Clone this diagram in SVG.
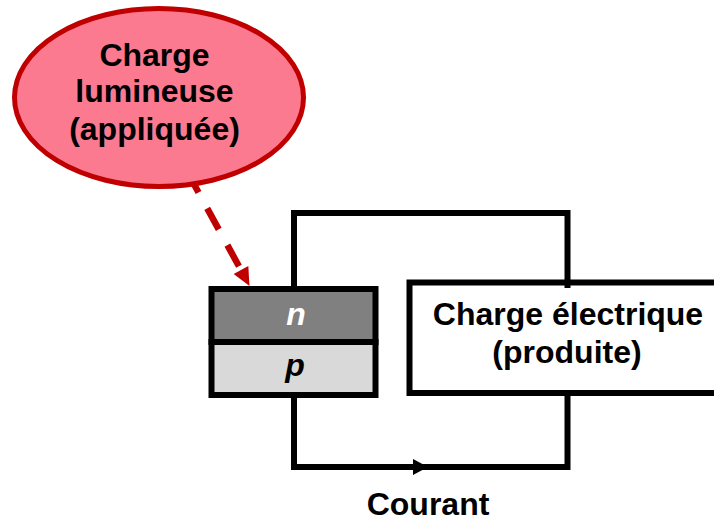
<svg xmlns="http://www.w3.org/2000/svg" width="714" height="522" viewBox="0 0 714 522">
  <style>
    text { font-family: "Liberation Sans", Arial, sans-serif; font-weight: bold; font-size: 32px; text-anchor: middle; fill: #000; }
    .wire { fill: none; stroke: #000; stroke-width: 6; stroke-linejoin: miter; }
    .box { stroke: #000; stroke-width: 6; }
    .it { font-style: italic; }
  </style>
  <rect width="714" height="522" fill="#fff"/>
  <g id="connectors">
    <path class="wire" d="M294 288V213H567.5V288"/>
    <path class="wire" d="M294 396V467H567.5V394"/>
    <polygon points="413,459 413,475 428,467" fill="#000"/>
    <line x1="187" y1="171.5" x2="241" y2="270" stroke="#c00000" stroke-width="6.5" stroke-dasharray="24 18"/>
    <polygon points="249.5,286 233.7,274 248.3,266" fill="#c00000"/>
  </g>
  <g id="charge-lumineuse">
    <ellipse cx="159" cy="97.5" rx="144.5" ry="89" fill="#fb7a90" stroke="#c00000" stroke-width="5"/>
    <text x="154.5" y="66">Charge</text>
    <text x="154.5" y="102">lumineuse</text>
    <text x="154.5" y="140">(appliquée)</text>
  </g>
  <g id="junction">
    <rect class="box" x="211.5" y="289" width="164" height="53" fill="#808080"/>
    <rect class="box" x="211.5" y="342" width="164" height="53" fill="#d9d9d9"/>
    <text class="it" x="296" y="325" style="fill:#fff">n</text>
    <text class="it" x="295" y="376">p</text>
  </g>
  <g id="charge-electrique">
    <rect class="box" x="409.5" y="282.5" width="320" height="110.5" fill="#fff"/>
    <path class="wire" d="M567.5 280V288"/>
    <text x="568" y="325">Charge électrique</text>
    <text x="567" y="363">(produite)</text>
  </g>
  <g id="courant">
    <text x="428" y="515">Courant</text>
  </g>
</svg>
